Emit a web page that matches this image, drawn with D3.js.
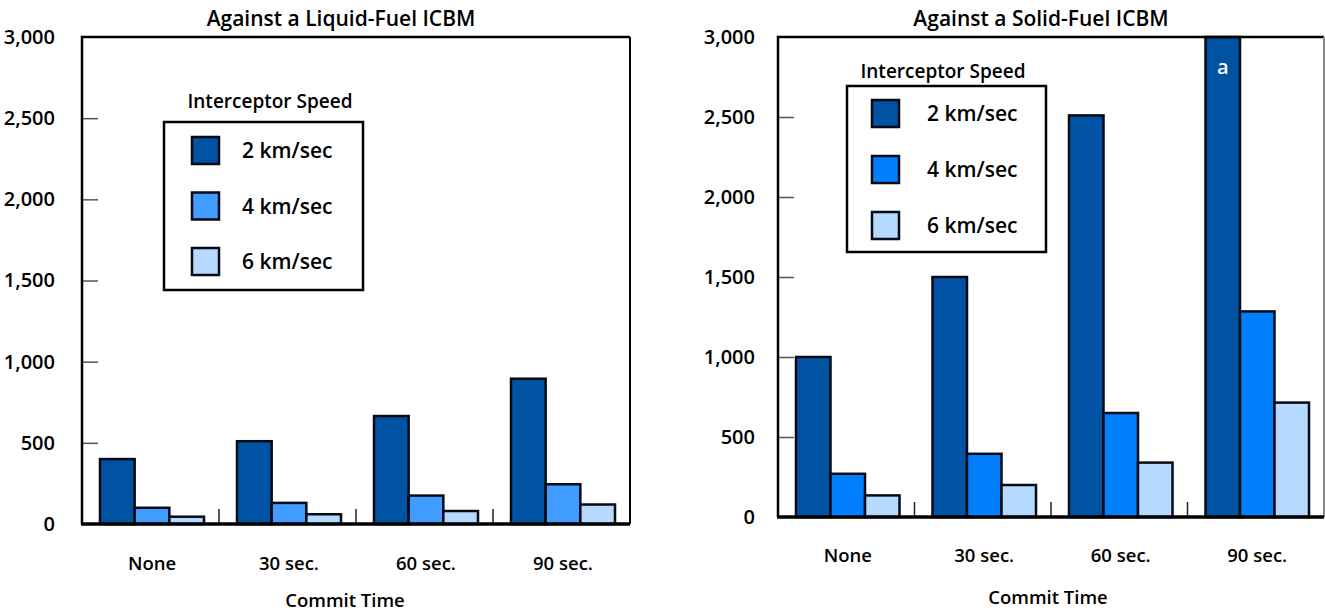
<!DOCTYPE html>
<html>
<head>
<meta charset="utf-8">
<script src="https://cdn.jsdelivr.net/npm/d3@7"></script>
<style>
  body { margin: 0; background: #fff; }
  svg { display: block; }
  text { font-family: "Open Sans", "DejaVu Sans", sans-serif; font-weight: 600; fill: #000; }
</style>
</head>
<body>
<svg width="1325" height="613"></svg>
<script>
// commit time categories and interceptor speeds
var categories = ['None', '30 sec.', '60 sec.', '90 sec.'];
var speeds = ['2 km/sec', '4 km/sec', '6 km/sec'];
var yTicks = [0, 500, 1000, 1500, 2000, 2500, 3000];

// liquid-fuel ICBM
var liquid2 = [400, 510, 665, 895];
var liquid4 = [100, 130, 175, 245];
var liquid6 = [45, 60, 80, 120];

// solid-fuel ICBM
var solid2 = [1000, 1500, 2510, 3000];
var solid4 = [270, 395, 650, 1285];
var solid6 = [135, 200, 340, 715];

var panels = [
    {
        title: 'Against a Liquid-Fuel ICBM',
        series: [liquid2, liquid4, liquid6],
        colors: ['#0052a3', '#409cff', '#b5d9ff'],
        x0: 82, x1: 630, top: 37, bottom: 524,
        titleX: 341, catY: 570, xLabelX: 345, xLabelY: 607, labelPad: 27,
        rightBorder: '#000',
        legend: {x: 164, y: 122, w: 199, h: 168, titleX: 270, titleY: 108, sw: 28, lab: 78, first: 15, step: 55.5}
    },
    {
        title: 'Against a Solid-Fuel ICBM',
        series: [solid2, solid4, solid6],
        colors: ['#0052a3', '#0080ff', '#b5d9ff'],
        x0: 778, x1: 1324, top: 37, bottom: 517,
        titleX: 1041, catY: 562, xLabelX: 1048, xLabelY: 604, labelPad: 23,
        rightBorder: '#888',
        legend: {x: 847, y: 86, w: 199, h: 166, titleX: 943, titleY: 78, sw: 25, lab: 80, first: 14, step: 56},
        note: 'a'
    }
];

var svg = d3.select('svg');

panels.forEach(function (p) {
    var g = svg.append('g');

    var x = d3.scaleBand()
        .domain(categories)
        .range([p.x0, p.x1])
        .padding(0)
    ;
    var xs = d3.scaleBand()
        .domain(speeds)
        .range([18, x.bandwidth() - 15])
        .padding(0)
    ;
    var y = d3.scaleLinear()
        .domain([0, 3000])
        .range([p.bottom, p.top])
    ;

    // title
    g.append('text')
        .attr('x', p.titleX)
        .attr('y', 26)
        .attr('text-anchor', 'middle')
        .style('font-size', '21px')
        .text(p.title)
    ;

    // y tick labels
    var yLabels = g.append('g')
        .attr('transform', 'translate(' + p.x0 + ',0)')
        .call(d3.axisLeft(y).tickValues(yTicks).tickFormat(d3.format(',')).tickSize(0).tickPadding(p.labelPad))
    ;
    yLabels.select('.domain').remove();
    yLabels.selectAll('text')
        .style('font-size', '20px')
        .attr('font-family', null)
    ;

    // inner ticks
    var yInner = g.append('g')
        .attr('transform', 'translate(' + p.x0 + ',0)')
        .call(d3.axisRight(y).tickValues(yTicks.slice(1, -1)).tickSize(16).tickFormat(''))
    ;
    yInner.select('.domain').remove();
    yInner.selectAll('line').attr('stroke', '#555').attr('stroke-width', 1.5);

    // bars
    speeds.forEach(function (s, si) {
        g.selectAll('.bar' + si)
            .data(p.series[si])
            .enter()
            .append('rect')
                .attr('x', function (d, i) { return x(categories[i]) + xs(s); })
                .attr('y', function (d) { return y(d); })
                .attr('width', xs.bandwidth())
                .attr('height', function (d) { return y(0) - y(d); })
                .attr('fill', p.colors[si])
                .attr('stroke', '#050a14')
                .attr('stroke-width', 2.5)
        ;
    });

    // frame
    g.append('path')
        .attr('d', 'M' + p.x0 + ',' + p.bottom + 'V' + p.top + 'H' + p.x1)
        .attr('fill', 'none')
        .attr('stroke', '#000')
        .attr('stroke-width', 2.5)
    ;
    g.append('line')
        .attr('x1', p.x1).attr('x2', p.x1)
        .attr('y1', p.top).attr('y2', p.bottom)
        .attr('stroke', p.rightBorder)
        .attr('stroke-width', 2)
    ;

    // category separators
    g.selectAll('.sep')
        .data(categories.slice(1))
        .enter()
        .append('line')
            .attr('x1', function (d) { return x(d); })
            .attr('x2', function (d) { return x(d); })
            .attr('y1', p.bottom)
            .attr('y2', p.bottom - 15)
            .attr('stroke', '#222')
            .attr('stroke-width', 1.5)
    ;

    // zero line
    g.append('line')
        .attr('x1', p.x0 - 1).attr('x2', p.x1)
        .attr('y1', y(0)).attr('y2', y(0))
        .attr('stroke', '#000')
        .attr('stroke-width', 3.5)
    ;

    // category labels
    g.selectAll('.cat')
        .data(categories)
        .enter()
        .append('text')
            .attr('x', function (d) { return x(d) + (xs.range()[0] + xs.range()[1]) / 2; })
            .attr('y', p.catY)
            .attr('text-anchor', 'middle')
            .style('font-size', '18.5px')
            .text(function (d) { return d; })
    ;

    g.append('text')
        .attr('x', p.xLabelX)
        .attr('y', p.xLabelY)
        .attr('text-anchor', 'middle')
        .style('font-size', '18.5px')
        .text('Commit Time')
    ;

    // note on the capped bar
    if (p.note) {
        var last = categories[categories.length - 1];
        g.append('text')
            .attr('x', x(last) + xs(speeds[0]) + xs.bandwidth() / 2)
            .attr('y', 74)
            .attr('text-anchor', 'middle')
            .style('font-size', '20px')
            .style('fill', '#fff')
            .text(p.note)
        ;
    }

    // legend
    var L = p.legend;
    g.append('text')
        .attr('x', L.titleX)
        .attr('y', L.titleY)
        .attr('text-anchor', 'middle')
        .style('font-size', '19px')
        .text('Interceptor Speed')
    ;
    g.append('rect')
        .attr('x', L.x).attr('y', L.y)
        .attr('width', L.w).attr('height', L.h)
        .attr('fill', '#fff')
        .attr('stroke', '#000')
        .attr('stroke-width', 2.5)
    ;
    var item = g.selectAll('.item')
        .data(speeds)
        .enter()
        .append('g')
            .attr('transform', function (d, i) {
                return 'translate(' + L.x + ',' + (L.y + L.first + i * L.step) + ')';
            })
    ;
    item.append('rect')
        .attr('x', L.sw).attr('y', 0)
        .attr('width', 27).attr('height', 27)
        .attr('fill', function (d, i) { return p.colors[i]; })
        .attr('stroke', '#050a14')
        .attr('stroke-width', 2.5)
    ;
    item.append('text')
        .attr('x', L.lab)
        .attr('y', 21)
        .style('font-size', '21px')
        .text(function (d) { return d; })
    ;
});
</script>
</body>
</html>
